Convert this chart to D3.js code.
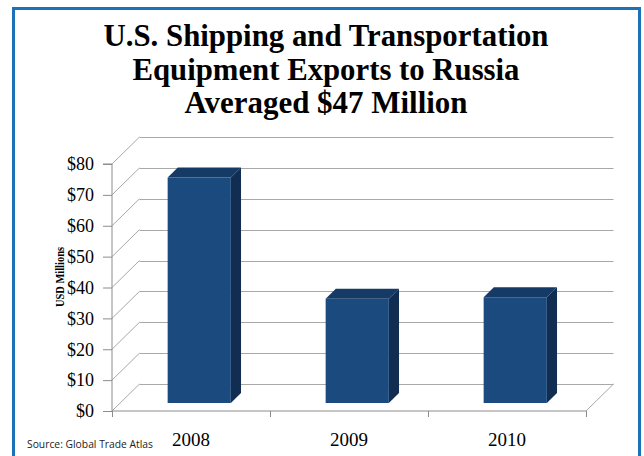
<!DOCTYPE html>
<html lang="en">
<head>
    <meta charset="UTF-8">
    <title>U.S. Shipping and Transportation Equipment Exports to Russia</title>
    <script src="https://cdn.jsdelivr.net/npm/d3@7"></script>
    <style>
        body { margin: 0; background: #fff; }
    </style>
</head>
<body>
    <svg width="644" height="456"></svg>
    <script>
        // data
        const years = ["2008", "2009", "2010"];
        const exports = [73.0, 33.7, 34.2];
        const yTicks = [0, 10, 20, 30, 40, 50, 60, 70, 80];
        const titleLines = ["U.S. Shipping and Transportation", "Equipment Exports to Russia", "Averaged $47 Million"];

        const svg = d3.select("svg");

        // front plane of the 3d box
        const front = { left: 112, right: 586, bottom: 411, top: 164 };
        // offset to the back wall
        const depth = { dx: 27.5, dy: -27 };
        // bars sit between these depth fractions
        const d0 = 0.3, d1 = 0.67;

        const x = d3.scaleBand().domain(years).range([front.left, front.right]).padding(0);
        const xEdge = d3.scaleLinear().domain([0, years.length]).range([front.left, front.right]);
        const y = d3.scaleLinear().domain([0, 80]).range([front.bottom, front.top]);

        // outer frame
        svg.append("rect")
            .attr("x", 16).attr("y", 11).attr("width", 625).attr("height", 460)
            .attr("fill", "#9a9a9a");
        svg.append("rect")
            .attr("x", 13.5).attr("y", 8.5).attr("width", 626).attr("height", 460)
            .attr("fill", "#fff").attr("stroke", "#1b72b8").attr("stroke-width", 3);

        // title
        const titleW = [445, 387, 283];
        svg.append("g").selectAll("text")
            .data(titleLines)
            .enter()
            .append("text")
            .attr("x", 326)
            .attr("y", (d, i) => 46 + i * 33.5)
            .attr("text-anchor", "middle")
            .attr("textLength", (d, i) => titleW[i])
            .attr("lengthAdjust", "spacingAndGlyphs")
            .style("font-family", "'Liberation Serif', serif")
            .style("font-weight", "bold")
            .style("font-size", "31px")
            .attr("fill", "#000")
            .text(d => d);

        // grid: back wall + left wall
        const grid = svg.append("g").attr("stroke", "#a8a8a8").attr("stroke-width", 1).attr("fill", "none");
        grid.selectAll("line.back")
            .data(yTicks)
            .enter()
            .append("line")
            .attr("x1", front.left + depth.dx)
            .attr("x2", front.right + depth.dx)
            .attr("y1", d => Math.round(y(d) + depth.dy) + 0.5)
            .attr("y2", d => Math.round(y(d) + depth.dy) + 0.5);
        grid.selectAll("line.side")
            .data(yTicks)
            .enter()
            .append("line")
            .attr("x1", front.left)
            .attr("y1", d => y(d))
            .attr("x2", front.left + depth.dx)
            .attr("y2", d => y(d) + depth.dy);
        // floor right edge
        grid.append("line")
            .attr("x1", front.right).attr("y1", front.bottom)
            .attr("x2", front.right + depth.dx).attr("y2", front.bottom + depth.dy);

        // bars
        const bw = x.bandwidth() * 0.4;
        const bars = svg.append("g").selectAll("g")
            .data(years.map((yr, i) => ({ yr: yr, v: exports[i] })))
            .enter()
            .append("g");

        function pt(px, py, d) {
            return [px + depth.dx * d, py + depth.dy * d];
        }
        function barPts(d) {
            const xl = x(d.yr) + (x.bandwidth() - bw) / 2;
            const xr = xl + bw;
            return { xl: xl, xr: xr, yv: y(d.v), y0: y(0) };
        }
        // side face
        bars.append("path")
            .attr("fill", "#112d51")
            .attr("d", d => {
                const b = barPts(d);
                return "M" + [pt(b.xr, b.yv, d0), pt(b.xr, b.yv, d1), pt(b.xr, b.y0, d1), pt(b.xr, b.y0, d0)].join("L") + "Z";
            });
        // top face
        bars.append("path")
            .attr("fill", "#163a66")
            .attr("d", d => {
                const b = barPts(d);
                return "M" + [pt(b.xl, b.yv, d0), pt(b.xr, b.yv, d0), pt(b.xr, b.yv, d1), pt(b.xl, b.yv, d1)].join("L") + "Z";
            });
        // front face
        bars.append("path")
            .attr("fill", "#1a4a7e")
            .attr("d", d => {
                const b = barPts(d);
                return "M" + [pt(b.xl, b.yv, d0), pt(b.xr, b.yv, d0), pt(b.xr, b.y0, d0), pt(b.xl, b.y0, d0)].join("L") + "Z";
            });

        // y axis
        const yAxis = svg.append("g")
            .attr("transform", "translate(" + front.left + ",0)")
            .call(d3.axisLeft(y).tickValues(yTicks).tickSize(9).tickPadding(9).tickFormat(d => "$" + d));
        yAxis.selectAll("path, line").attr("stroke", "#8c8c8c");
        yAxis.select(".domain").attr("d", "M-9," + y(80) + "H0V" + y(0));
        yAxis.selectAll("text")
            .style("font-family", "'Liberation Serif', serif")
            .style("font-size", "18px")
            .attr("fill", "#000");

        // x axis: boundary ticks
        const xTicks = svg.append("g")
            .attr("transform", "translate(0," + front.bottom + ")")
            .call(d3.axisBottom(xEdge).tickValues(d3.range(years.length + 1)).tickSize(6).tickFormat(""));
        xTicks.selectAll("path, line").attr("stroke", "#8c8c8c");
        xTicks.select(".domain").attr("d", "M" + front.left + ",0H" + front.right);

        // x axis: labels
        const xLab = svg.append("g")
            .attr("transform", "translate(0," + front.bottom + ")")
            .call(d3.axisBottom(x).tickSize(0).tickPadding(22));
        xLab.select(".domain").remove();
        xLab.selectAll("text")
            .style("font-family", "'Liberation Serif', serif")
            .style("font-size", "19px")
            .attr("fill", "#000");

        // y axis title
        svg.append("text")
            .attr("transform", "translate(64,277) rotate(-90)")
            .attr("text-anchor", "middle")
            .attr("textLength", 60)
            .attr("lengthAdjust", "spacingAndGlyphs")
            .style("font-family", "'Liberation Serif', serif")
            .style("font-weight", "bold")
            .style("font-size", "13px")
            .text("USD Millions");

        // source
        svg.append("text")
            .attr("x", 27)
            .attr("y", 448)
            .attr("textLength", 126)
            .attr("lengthAdjust", "spacingAndGlyphs")
            .style("font-family", "'Open Sans', sans-serif")
            .style("font-size", "10.5px")
            .attr("fill", "#222")
            .text("Source: Global Trade Atlas");
    </script>
</body>
</html>
